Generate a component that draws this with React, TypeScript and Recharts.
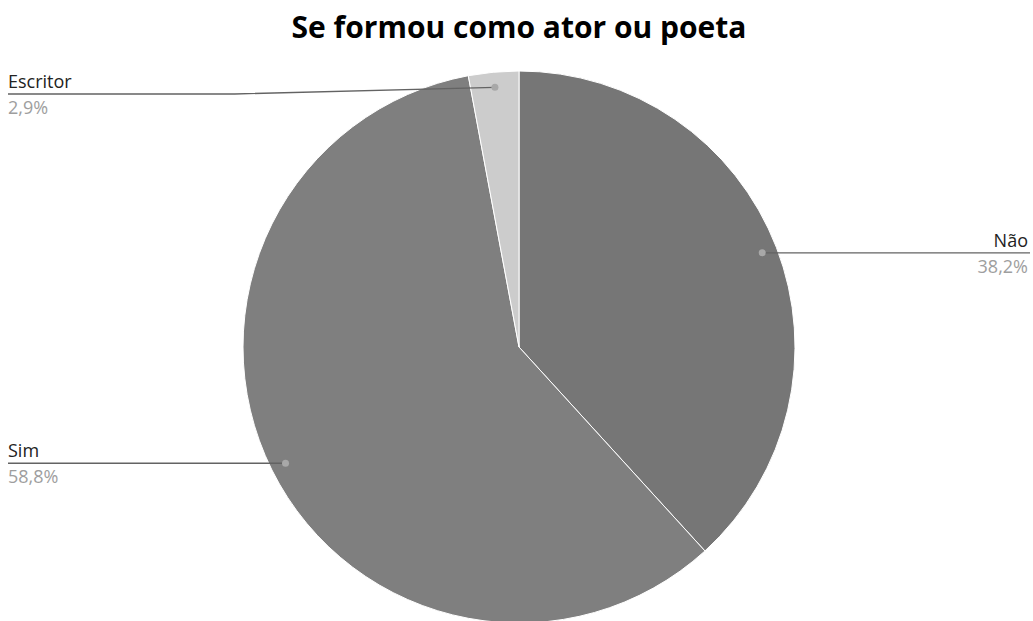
import React from "react";
import { Cell, Pie, PieChart } from "recharts";

const categories = ["Não", "Sim", "Escritor"];
const counts = [13, 20, 1];
const colors = ["#767676", "#7f7f7f", "#cccccc"];

const data = categories.map((name, i) => ({ name, value: counts[i] }));
const total = counts.reduce((a, b) => a + b, 0);

const RAD = Math.PI / 180;
const W = 1033;

const renderLabel = (props: any) => {
    const { cx, cy, midAngle, outerRadius, index } = props;
    const r = outerRadius * 0.945;
    const dx = cx + r * Math.cos(-midAngle * RAD);
    const dy = cy + r * Math.sin(-midAngle * RAD);
    const right = dx > cx;
    // keep labels clear of the title
    const ly = Math.max(dy, 94);
    const endX = right ? W - 3 : 8;
    const elbowX = right ? dx + 20 : Math.min(dx - 20, cx - outerRadius * 1.03);
    const pct = ((counts[index] / total) * 100).toFixed(1).replace(".", ",") + "%";
    const path = ly !== dy
        ? `M${dx},${dy} L${elbowX},${ly} L${endX},${ly}`
        : `M${dx},${dy} L${endX},${ly}`;
    return (
        <g>
            <path d={path} stroke="#636363" strokeWidth={1.3} fill="none" />
            <circle cx={dx} cy={dy} r={3.5} fill="#a8a8a8" />
            <text x={right ? endX - 2 : endX} y={ly - 6} textAnchor={right ? "end" : "start"}
                fontSize={18} fill="#222222">{categories[index]}</text>
            <text x={right ? endX - 2 : endX} y={ly + 20} textAnchor={right ? "end" : "start"}
                fontSize={18} fill="#9e9e9e">{pct}</text>
        </g>
    );
};

const App: React.FC = () => {
    return (
        <div style={{ position: "absolute", left: 0, top: 0, fontFamily: "'Open Sans', sans-serif" }}>
            <PieChart width={1033} height={621} margin={{ top: 0, right: 0, bottom: 0, left: 0 }}>
                <text x={519} y={38} textAnchor="middle" fontSize={30} fontWeight={700} fill="#000">
                    Se formou como ator ou poeta
                </text>
                <Pie
                    data={data}
                    dataKey="value"
                    nameKey="name"
                    cx={519}
                    cy={347}
                    outerRadius={276}
                    startAngle={90}
                    endAngle={-270}
                    stroke="#ffffff"
                    strokeWidth={1}
                    label={renderLabel}
                    labelLine={false}
                    isAnimationActive={false}
                >
                    {data.map((d, i) => (
                        <Cell key={d.name} fill={colors[i]} />
                    ))}
                </Pie>
            </PieChart>
        </div>
    );
};

export default App;
